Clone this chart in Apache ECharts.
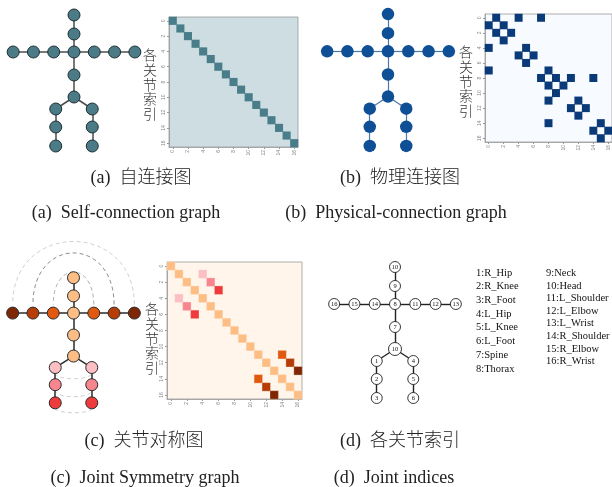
<!DOCTYPE html>
<html>
<head>
<meta charset="utf-8">
<script src="https://cdn.jsdelivr.net/npm/echarts@6/dist/echarts.min.js"></script>
<style>
html,body{margin:0;padding:0;background:#fff}
#chart{width:612px;height:487px}
</style>
</head>
<body>
<div id="chart"></div>
<script>
// 17-joint skeleton (Human3.6M joint order)
const jointNames = ['Hip','R_Hip','R_Knee','R_Foot','L_Hip','L_Knee','L_Foot','Spine','Thorax','Neck','Head',
  'L_Shoulder','L_Elbow','L_Wrist','R_Shoulder','R_Elbow','R_Wrist'];
const jointLabels = ['10','1','2','3','4','5','6','7','8','9','10','11','12','13','14','15','16'];
// drawing layout of the skeleton, in skeleton units (y grows downward)
const jointX = [0,-0.9,-0.9,-0.9,0.9,0.9,0.9,0,0,0,0,1,2,3,-1,-2,-3];
const jointY = [4.1,4.7,5.6,6.55,4.7,5.6,6.55,3.0,1.85,0.95,0,1.85,1.85,1.85,1.85,1.85,1.85];
// bones (physical connections)
const boneEdges = [[0,1],[1,2],[2,3],[0,4],[4,5],[5,6],[0,7],[7,8],[8,9],[9,10],
  [8,11],[11,12],[12,13],[8,14],[14,15],[15,16]];
// left/right symmetric joint pairs
const symmetricPairs = [[1,4],[2,5],[3,6],[11,14],[12,15],[13,16]];
// turning point of each dashed symmetry arc (skeleton y units)
const arcTurnY = [5.29,6.23,7.07,-0.3,-1.3,-1.9];
const arcColors = ['#cfcfcf','#cfcfcf','#cfcfcf','#b0b0b0','#8f8f8f','#d2d2d2'];
const matrixTicks = ['0','1','2','3','4','5','6','7','8','9','10','11','12','13','14','15','16'];
const legendCol1 = ['1:R_Hip','2:R_Knee','3:R_Foot','4:L_Hip','5:L_Knee','6:L_Foot','7:Spine','8:Thorax'];
const legendCol2 = ['9:Neck','10:Head','11:L_Shoulder','12:L_Elbow','13:L_Wrist','14:R_Shoulder','15:R_Elbow','16:R_Wrist'];
const captionsCn = ['(a)  自连接图','(b)  物理连接图','(c)  关节对称图','(d)  各关节索引'];
const captionsEn = ['(a)  Self-connection graph','(b)  Physical-connection graph','(c)  Joint Symmetry graph','(d)  Joint indices'];
const axisTitle = '各关节索引';

// colours
const selfColors = {bg:'#cddde2', cell:'#4a7d8a', node:'#4a7b86', edge:'#4d4d4d'};
const physColors = {bg:'#f7fbff', cell:'#0b3a78', node:'#0f4f96', edge:'#4a78a8'};
const symBg = '#fff5eb';
const symColors = ['#fdbe85','#fcbfc4','#f7868e','#ef3b3b','#e1580f','#b63e06','#7f2704'];

const J = jointNames.length;

// adjacency matrices
const selfCells = [];
for (let i = 0; i < J; i++) selfCells.push([i, i, 1]);
const physCells = [];
boneEdges.forEach(([a, b]) => { physCells.push([b, a, 1]); physCells.push([a, b, 1]); });
const jointClass = new Array(J).fill(0);
symmetricPairs.forEach(([a, b], k) => { jointClass[a] = k + 1; jointClass[b] = k + 1; });
const symCells = [];
for (let i = 0; i < J; i++) symCells.push([i, i, 0]);
symmetricPairs.forEach(([a, b], k) => { symCells.push([b, a, k + 1]); symCells.push([a, b, k + 1]); });

const serif = "'Liberation Serif','Times New Roman',serif";
const cjk = "'Liberation Serif','Noto Sans CJK SC',serif";

// grids: 0-3 skeletons (a,b,c,d), 4-6 matrices (a,b,c)
const grids = [
  {left:3, top:5, width:142, height:150},
  {left:317, top:4, width:142, height:151},
  {left:2.5, top:230, width:142, height:191},
  {left:324, top:257, width:142, height:150},
  {left:169, top:17, width:129, height:130},
  {left:485, top:14, width:129, height:128},
  {left:167, top:262, width:135, height:137}
];
const matrixBg = [selfColors.bg, physColors.bg, symBg];
grids.forEach((g, i) => {
  g.containLabel = false;
  if (i >= 4) {
    g.show = true;
    g.backgroundColor = matrixBg[i - 4];
    g.borderColor = '#9a9a9a';
    g.borderWidth = 0.8;
  }
});

const xAxes = [], yAxes = [];
grids.forEach((g, i) => {
  if (i < 4) {
    const yRange = i === 2 ? [-2.5, 7.5] : [-0.5, 7];
    xAxes.push({type:'value', gridIndex:i, min:-3.5, max:3.5, show:false});
    yAxes.push({type:'value', gridIndex:i, min:yRange[0], max:yRange[1], inverse:true, show:false});
  } else {
    const common = {
      type:'category', gridIndex:i, data:matrixTicks,
      axisLine:{show:true, lineStyle:{color:'#9a9a9a', width:0.8}},
      axisTick:{show:true, length:2, interval:1, alignWithLabel:true, lineStyle:{color:'#999'}},
      axisLabel:{show:true, interval:1, fontSize:5, color:'#888', margin:3, rotate:90},
      splitLine:{show:false}
    };
    xAxes.push(Object.assign({}, common));
    yAxes.push(Object.assign({}, common, {inverse:true}));
  }
});

function skeleton(idx, opts) {
  return {
    type:'graph', coordinateSystem:'cartesian2d', xAxisIndex:idx, yAxisIndex:idx,
    silent:true, z:3,
    symbol:'circle', symbolSize:opts.size,
    data: jointX.map((x, i) => ({
      name: jointNames[i],
      value: [x, jointY[i]],
      symbolSize: opts.sizeOf ? opts.sizeOf(i) : opts.size,
      itemStyle: Object.assign({}, opts.item, opts.colorOf ? {color: opts.colorOf(i)} : {}),
      label: opts.label ? Object.assign({show:true, formatter: jointLabels[i]}, opts.label) : {show:false}
    })),
    links: boneEdges.map(([s, t]) => ({source:s, target:t})),
    lineStyle: opts.line
  };
}

function heat(idx) {
  return {type:'heatmap', xAxisIndex:idx, yAxisIndex:idx, silent:true, z:2};
}

const series = [
  skeleton(0, {size:12, item:{color:selfColors.node, borderColor:'#1f3035', borderWidth:1},
    line:{color:selfColors.edge, width:1.5, opacity:1}}),
  skeleton(1, {size:12.5, item:{color:physColors.node, borderWidth:0},
    line:{color:physColors.edge, width:1.2, opacity:1}}),
  skeleton(2, {size:12, item:{borderColor:'#2b2b2b', borderWidth:1},
    colorOf: i => symColors[jointClass[i]],
    line:{color:'#2b2b2b', width:1.5, opacity:1}}),
  skeleton(3, {size:11, sizeOf: i => (i === 0 ? 13 : 11),
    item:{color:'#ffffff', borderColor:'#222', borderWidth:0.9},
    label:{position:'inside', fontSize:6.5, color:'#111', fontFamily:serif},
    line:{color:'#222', width:1.4, opacity:1}}),
  Object.assign(heat(4), {data:selfCells, itemStyle:{borderWidth:0}}),
  Object.assign(heat(5), {data:physCells, itemStyle:{borderWidth:0}}),
  Object.assign(heat(6), {data:symCells, itemStyle:{borderColor:symBg, borderWidth:0.3}}),
  {
    // dashed arcs linking each symmetric joint pair
    type:'custom', coordinateSystem:'cartesian2d', xAxisIndex:2, yAxisIndex:2,
    silent:true, z:1, clip:false,
    data: symmetricPairs.map(([a, b], k) => {
      const up = arcTurnY[k] < jointY[a];
      const y0 = jointY[a] + (up ? -0.45 : 0.28);
      return [jointX[a], y0, jointX[b], y0, arcTurnY[k]];
    }),
    renderItem: function (params, api) {
      const p1 = api.coord([api.value(0), api.value(1)]);
      const p2 = api.coord([api.value(2), api.value(3)]);
      const pk = api.coord([0, api.value(4)]);
      const cy = (pk[1] - 0.25 * p1[1]) / 0.75;
      return {
        type:'bezierCurve',
        shape:{x1:p1[0], y1:p1[1], x2:p2[0], y2:p2[1], cpx1:p1[0], cpy1:cy, cpx2:p2[0], cpy2:cy},
        style:{stroke:arcColors[params.dataIndex], fill:null, lineWidth:1, lineDash:[4, 3]}
      };
    }
  }
];

const visualMap = [
  {type:'piecewise', show:false, seriesIndex:4, dimension:2, pieces:[{value:1, color:selfColors.cell}]},
  {type:'piecewise', show:false, seriesIndex:5, dimension:2, pieces:[{value:1, color:physColors.cell}]},
  {type:'piecewise', show:false, seriesIndex:6, dimension:2,
    pieces: symColors.map((c, k) => ({value:k, color:c}))}
];

// captions and side titles
const graphic = [];
const capCnX = [141, 400, 144, 400];
const capEnX = [126, 396, 145, 394];
const capCnY = [178, 178, 441, 441];
const capEnY = [213, 213, 478, 478];
captionsCn.forEach((t, i) => graphic.push({type:'text', silent:true,
  style:{text:t, x:capCnX[i], y:capCnY[i], textAlign:'center', textVerticalAlign:'middle',
    font:'300 18px ' + cjk, fill:'#222'}}));
captionsEn.forEach((t, i) => graphic.push({type:'text', silent:true,
  style:{text:t, x:capEnX[i], y:capEnY[i], textAlign:'center', textVerticalAlign:'middle',
    font:'18px ' + serif, fill:'#222'}}));
[[150, 56], [466, 53], [152, 310]].forEach(([x, y]) => graphic.push({type:'text', silent:true,
  style:{text:axisTitle.split('').join('\n'), x:x, y:y - 7, textAlign:'center', font:'300 14px ' + cjk,
    lineHeight:14.8, fill:'#333'}}));
graphic.push({type:'text', silent:true,
  style:{text:legendCol1.join('\n'), x:476, y:266, font:'10.5px ' + serif, lineHeight:13.7, fill:'#111'}});
graphic.push({type:'text', silent:true,
  style:{text:legendCol2.join('\n'), x:546, y:267, font:'10.5px ' + serif, lineHeight:12.6, fill:'#111'}});

const chart = echarts.init(document.getElementById('chart'), null, {renderer:'canvas'});
chart.setOption({
  backgroundColor:'#ffffff',
  animation:false,
  grid:grids, xAxis:xAxes, yAxis:yAxes,
  visualMap:visualMap,
  series:series,
  graphic:graphic
});
</script>
</body>
</html>
